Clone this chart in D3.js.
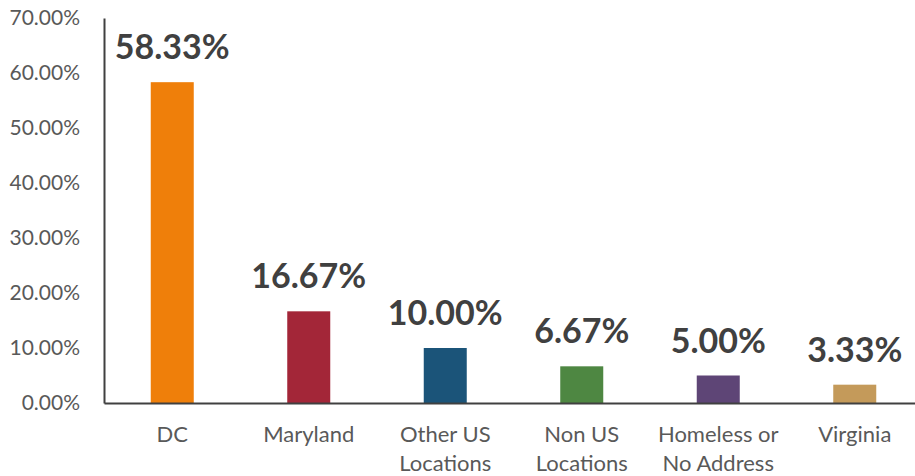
<!DOCTYPE html>
<html>
<head>
<meta charset="utf-8">
<script src="https://cdn.jsdelivr.net/npm/d3@7"></script>
<style>
  html, body { margin: 0; padding: 0; background: #fff; }
  svg { display: block; }
</style>
</head>
<body>
<svg id="chart" width="915" height="476"></svg>
<script>
// Share of clients by location
const categories = ["DC", "Maryland", "Other US Locations", "Non US Locations", "Homeless or No Address", "Virginia"];
const categoryLines = [["DC"], ["Maryland"], ["Other US", "Locations"], ["Non US", "Locations"], ["Homeless or", "No Address"], ["Virginia"]];
const values = [58.33, 16.67, 10.00, 6.67, 5.00, 3.33];
const colors = ["#EF7F0A", "#A32638", "#1B5479", "#4E8742", "#5E4576", "#C49A5A"];
const yTicks = [0, 10, 20, 30, 40, 50, 60, 70];

const svg = d3.select("#chart");
const margin = { left: 104, right: -8, top: 18, bottom: 73 };
const W = 915, H = 476;

const x = d3.scaleBand()
  .domain(categories)
  .range([margin.left, W - margin.right])
  .paddingInner(0.685)
  .paddingOuter(0.3425);

const y = d3.scaleLinear()
  .domain([0, 70])
  .range([H - margin.bottom, margin.top]);

const font = "Lato, 'Open Sans', sans-serif";

// y axis labels
const yAxis = d3.axisLeft(y)
  .tickValues(yTicks)
  .tickSize(0)
  .tickPadding(24)
  .tickFormat(d => d.toFixed(2) + "%");

const gy = svg.append("g")
  .attr("transform", `translate(${margin.left},0)`)
  .call(yAxis);
gy.select(".domain").attr("stroke", "#404040").attr("stroke-width", 2);
gy.selectAll("text")
  .attr("fill", "#595959")
  .style("font-family", font)
  .style("font-size", "21px");

// bars
svg.append("g").selectAll("rect")
  .data(values)
  .join("rect")
  .attr("x", (d, i) => x(categories[i]))
  .attr("width", x.bandwidth())
  .attr("y", d => y(d))
  .attr("height", d => y(0) - y(d))
  .attr("fill", (d, i) => colors[i]);

// x axis line
const xAxis = d3.axisBottom(x).tickSize(0).tickFormat("");
const gx = svg.append("g")
  .attr("transform", `translate(0,${y(0)})`)
  .call(xAxis);
gx.select(".domain").attr("stroke", "#404040").attr("stroke-width", 2);

// category labels
const catG = svg.append("g");
categories.forEach((c, i) => {
  const t = catG.append("text")
    .attr("x", x(c) + x.bandwidth() / 2)
    .attr("y", y(0) + 39)
    .attr("text-anchor", "middle")
    .attr("fill", "#595959")
    .style("font-family", font)
    .style("font-size", "22px");
  categoryLines[i].forEach((line, j) => {
    t.append("tspan")
      .attr("x", x(c) + x.bandwidth() / 2)
      .attr("dy", j === 0 ? 0 : 29)
      .text(line);
  });
});

// value labels
svg.append("g").selectAll("text")
  .data(values)
  .join("text")
  .attr("x", (d, i) => x(categories[i]) + x.bandwidth() / 2)
  .attr("y", d => y(d) - 23)
  .attr("text-anchor", "middle")
  .attr("fill", "#404040")
  .style("font-family", font)
  .style("font-weight", "bold")
  .style("font-size", "34px")
  .text(d => d.toFixed(2) + "%");
</script>
</body>
</html>
